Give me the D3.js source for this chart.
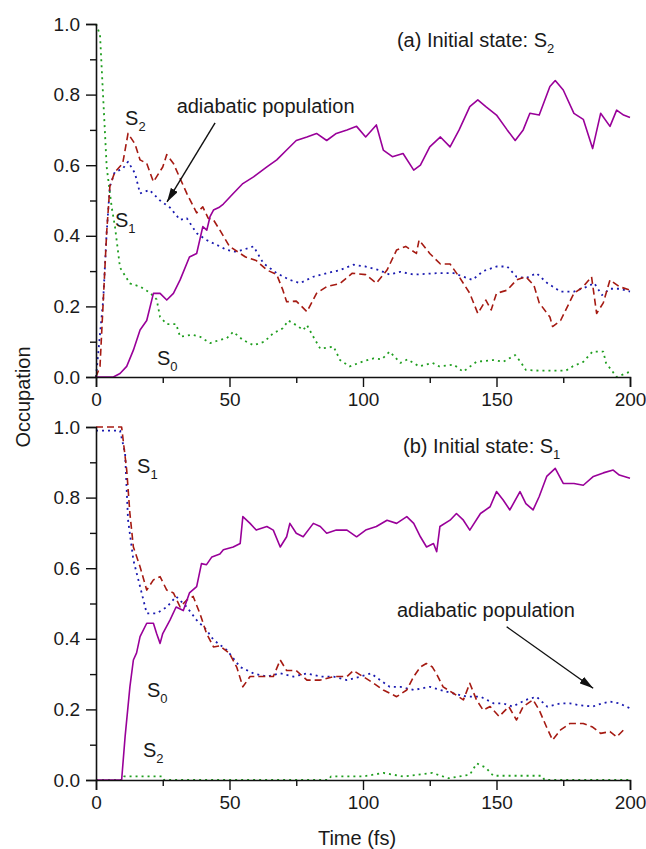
<!DOCTYPE html>
<html>
<head>
<meta charset="utf-8">
<script src="https://cdn.jsdelivr.net/npm/d3@7"></script>
<style>
  body { margin: 0; background: #fff; }
  svg text { font-family: Arial, "Liberation Sans", sans-serif; fill: #1a1a1a; }
</style>
</head>
<body>
<div id="chart"></div>
<script>
// ---- data: [time (fs), occupation] ----
// panel (a), initial state S2
const aS0 = [[0,0],[6.5,0],[9,0.01],[11.5,0.03],[14,0.076],[16.5,0.133],[19,0.16],[21.5,0.237],[24,0.237],[26.5,0.218],[29,0.237],[31.5,0.275],[35,0.34],[37.7,0.35],[40,0.426],[41.5,0.416],[42.7,0.454],[44,0.473],[46,0.48],[47.7,0.49],[51.4,0.52],[55,0.548],[59,0.567],[64,0.595],[67.7,0.615],[71.4,0.643],[75,0.67],[79,0.68],[82.6,0.69],[86.4,0.67],[90,0.69],[94,0.70],[97.6,0.71],[101,0.68],[105,0.714],[107.6,0.643],[111,0.624],[115,0.633],[119,0.586],[121.5,0.6],[125,0.652],[129,0.68],[132.6,0.652],[136,0.70],[140,0.766],[143,0.785],[146,0.766],[150,0.742],[154,0.70],[157,0.67],[160,0.70],[162.5,0.747],[166,0.742],[170,0.823],[172,0.84],[175,0.813],[179,0.747],[182.5,0.73],[186,0.647],[189,0.747],[192.5,0.71],[195,0.756],[197.6,0.742],[200,0.735]];
const aS1 = [[0,0],[1.5,0.03],[4,0.41],[5.2,0.54],[7,0.58],[10,0.605],[12,0.69],[14.6,0.66],[16.5,0.615],[19,0.605],[21.5,0.553],[25,0.595],[26.5,0.63],[29,0.605],[34,0.52],[37.7,0.465],[40,0.482],[42,0.45],[44,0.445],[46.4,0.416],[50,0.37],[54,0.35],[56,0.34],[60,0.33],[64,0.303],[67.7,0.29],[70,0.246],[71.4,0.213],[75,0.215],[79,0.185],[82.6,0.237],[86.4,0.256],[91.4,0.265],[96,0.294],[101,0.29],[105,0.266],[109,0.303],[112.6,0.36],[116,0.37],[120,0.35],[121,0.388],[125,0.35],[129,0.32],[132.6,0.32],[136,0.284],[140,0.237],[143,0.18],[146,0.218],[148,0.19],[150,0.237],[154,0.246],[157.5,0.275],[161,0.284],[164,0.26],[166,0.21],[170,0.17],[171,0.143],[174,0.16],[179,0.237],[182.5,0.256],[185.6,0.284],[187.5,0.18],[190,0.21],[192.5,0.275],[196,0.256],[200,0.246]];
const aS2 = [[0,1.0],[1.5,0.97],[4,0.595],[5.9,0.48],[7.1,0.426],[9,0.31],[12.7,0.265],[16.5,0.256],[20,0.24],[22.7,0.22],[24,0.17],[26.5,0.15],[30,0.15],[31.5,0.114],[36,0.12],[39,0.114],[42.7,0.096],[46.4,0.105],[49,0.11],[51.4,0.128],[55,0.105],[59,0.09],[63,0.10],[66.4,0.124],[70,0.138],[72,0.16],[75,0.147],[77.6,0.133],[79,0.147],[81.4,0.114],[84,0.08],[89,0.086],[91.4,0.048],[95,0.03],[100,0.044],[104,0.053],[107,0.05],[110,0.072],[114,0.04],[116.7,0.05],[121,0.03],[126,0.04],[128.6,0.03],[134,0.035],[137.5,0.015],[142.5,0.043],[148.8,0.048],[152.5,0.043],[157,0.062],[159,0.043],[161,0.02],[166,0.018],[176,0.018],[178.5,0.03],[182.5,0.043],[186,0.072],[190,0.072],[191,0.04],[195,0.0],[200,0.015]];
const aAdiabatic = [[0,0],[2.7,0.218],[4,0.41],[5.2,0.54],[7,0.58],[10,0.59],[12,0.61],[14.6,0.577],[16.5,0.52],[20,0.53],[24,0.50],[27.7,0.48],[31.5,0.445],[34,0.45],[37.7,0.407],[41.4,0.388],[45,0.375],[49,0.36],[52,0.355],[55,0.36],[59,0.37],[62.7,0.322],[67.7,0.294],[72.6,0.275],[76.4,0.266],[81.4,0.284],[86.4,0.294],[91.4,0.303],[96.4,0.318],[101,0.313],[106,0.303],[110,0.29],[114,0.298],[119,0.29],[127.6,0.294],[134,0.294],[141,0.275],[145,0.30],[150,0.313],[154,0.313],[157.5,0.284],[161,0.28],[165,0.294],[169,0.266],[174,0.242],[179,0.242],[184,0.256],[186.6,0.266],[189.5,0.232],[192.5,0.25],[196,0.25],[200,0.242]];

// panel (b), initial state S1
const bS0 = [[0,0],[9.6,0],[10.9,0.123],[12.7,0.264],[14,0.34],[15.2,0.36],[16.5,0.406],[19,0.444],[21.5,0.444],[22.7,0.415],[24,0.387],[25,0.415],[27.7,0.453],[30,0.49],[32.7,0.48],[35,0.53],[37.7,0.548],[39.5,0.613],[41.4,0.61],[43.4,0.632],[46.4,0.64],[47.7,0.652],[51.4,0.66],[54,0.67],[55,0.746],[57.7,0.727],[60,0.708],[64,0.718],[66.4,0.708],[69,0.66],[71.4,0.689],[72.6,0.727],[75,0.699],[77.6,0.689],[81.4,0.727],[84,0.718],[86.4,0.699],[90,0.708],[94,0.708],[97.6,0.689],[101,0.708],[105,0.718],[109,0.736],[112.6,0.727],[116.4,0.746],[119,0.727],[121.5,0.689],[123.8,0.66],[126.4,0.67],[127.6,0.647],[128.8,0.718],[132.6,0.736],[135,0.755],[137.6,0.736],[140,0.708],[144,0.755],[147.6,0.774],[150,0.817],[152.5,0.793],[155,0.765],[158.8,0.817],[161,0.783],[163.7,0.765],[166,0.803],[168.8,0.86],[172,0.883],[175,0.84],[179,0.84],[182.5,0.835],[186.3,0.86],[190,0.87],[193.7,0.878],[196,0.864],[200,0.855]];
const bS1 = [[0,1.0],[9.6,1.0],[11.5,0.878],[12.7,0.755],[14,0.66],[16.5,0.604],[19,0.538],[21.5,0.567],[24,0.576],[26.5,0.538],[29,0.53],[31.5,0.49],[34,0.51],[36.4,0.52],[39,0.47],[41.4,0.415],[44,0.377],[46.4,0.38],[50,0.359],[52.7,0.32],[55,0.264],[57.7,0.293],[61,0.293],[66.4,0.293],[69,0.34],[71.4,0.31],[75,0.31],[79,0.283],[84,0.283],[89,0.293],[94,0.293],[96.4,0.31],[100,0.293],[104,0.274],[107.6,0.255],[112.6,0.236],[116.4,0.255],[119,0.293],[121.5,0.32],[123.7,0.33],[126,0.32],[127.6,0.30],[130,0.264],[134,0.245],[137.6,0.227],[140,0.274],[142.5,0.227],[145,0.198],[147.6,0.208],[151,0.18],[154.6,0.208],[157.5,0.17],[160,0.208],[163.7,0.227],[166,0.198],[168.7,0.151],[171,0.113],[174,0.142],[177.5,0.16],[182.5,0.16],[186,0.15],[189,0.132],[192.5,0.137],[195,0.122],[197.6,0.142]];
const bS2 = [[0,0],[10,0],[10.5,0.01],[25,0.01],[25.5,0],[87,0],[88,0.01],[100,0.01],[107.6,0.02],[115,0.01],[126,0.02],[132,0.005],[140,0.015],[142.6,0.047],[146,0.035],[148.8,0.012],[167,0.012],[168,0],[200,0]];
const bAdiabatic = [[0,0.99],[9,0.99],[10.9,0.925],[12,0.737],[14,0.623],[16.5,0.548],[19,0.472],[22.7,0.472],[26.5,0.49],[30,0.52],[34,0.49],[37.7,0.453],[41.4,0.425],[44,0.397],[49,0.368],[54,0.32],[59,0.302],[64,0.293],[69,0.302],[74,0.293],[79,0.302],[84,0.293],[89,0.293],[94,0.283],[99,0.293],[103,0.302],[106.4,0.283],[110,0.264],[114,0.264],[119,0.255],[125,0.264],[129,0.255],[134,0.245],[139,0.236],[144,0.236],[149,0.217],[152.5,0.217],[156,0.208],[161,0.227],[165,0.236],[169,0.208],[174,0.217],[177.5,0.217],[181,0.212],[186,0.208],[189.5,0.217],[192.5,0.222],[196,0.217],[200,0.203]];

const xMajorTicks = [0, 50, 100, 150, 200];
const xMinorTicks = [25, 75, 125, 175];
const yMajorTicks = [0, 0.2, 0.4, 0.6, 0.8, 1.0];
const yMinorTicks = [0.1, 0.3, 0.5, 0.7, 0.9];

// state labels: [text, subscript, time, occupation]
const aLabels = [["S", "2", 10.9, 0.714], ["S", "1", 7.1, 0.425], ["S", "0", 22.8, 0.034]];
const bLabels = [["S", "1", 15.4, 0.87], ["S", "0", 19.1, 0.235], ["S", "2", 17.6, 0.065]];
// annotation arrows: [fromT, fromV, toT, toV]
const aArrow = [44.6, 0.72, 26.6, 0.496];
const bArrow = [153.8, 0.434, 186.2, 0.26];

const width = 646, height = 849;
const styles = {
  s0: { color: "#990099", dash: null, width: 1.6 },
  s1: { color: "#a51a12", dash: "7,4", width: 1.6 },
  s2: { color: "#1f9e1f", dash: "2,4", width: 1.8 },
  adiabatic: { color: "#1a1ab0", dash: "2,4", width: 1.8 },
};

const svg = d3.select("#chart").append("svg")
  .attr("width", width)
  .attr("height", height);

const defs = svg.append("defs");
defs.append("marker")
  .attr("id", "arrowhead")
  .attr("viewBox", "0 0 14 8")
  .attr("refX", 14)
  .attr("refY", 4)
  .attr("markerUnits", "userSpaceOnUse")
  .attr("markerWidth", 14)
  .attr("markerHeight", 8)
  .attr("orient", "auto")
  .append("path")
  .attr("d", "M0,0 L14,4 L0,8 Z")
  .attr("fill", "#111");

const x = d3.scaleLinear().domain([0, 200]).range([96, 630]);

function drawPanel(top, bottom, series, labels, title, titleSub, titlePos, adiabaticPos, arrow) {
  const y = d3.scaleLinear().domain([0, 1]).range([bottom, top]);
  const g = svg.append("g");

  const line = d3.line()
    .x((d) => x(d[0]))
    .y((d) => y(d[1]));

  // draw order: green, blue, red, purple
  series.forEach(([data, st]) => {
    g.append("path")
      .datum(data)
      .attr("d", line)
      .attr("fill", "none")
      .attr("stroke", st.color)
      .attr("stroke-width", st.width)
      .attr("stroke-dasharray", st.dash)
      .attr("stroke-linejoin", "round");
  });

  // axes
  const yAxis = g.append("g")
    .attr("transform", `translate(${x(0)},0)`)
    .call(d3.axisLeft(y).tickValues(yMajorTicks).tickFormat(d3.format(".1f")).tickSize(10).tickPadding(6));
  g.append("g")
    .attr("transform", `translate(${x(0)},0)`)
    .call(d3.axisLeft(y).tickValues(yMinorTicks).tickFormat("").tickSize(6))
    .select(".domain").remove();

  const xAxis = g.append("g")
    .attr("transform", `translate(0,${bottom})`)
    .call(d3.axisBottom(x).tickValues(xMajorTicks).tickSize(10).tickPadding(6));
  g.append("g")
    .attr("transform", `translate(0,${bottom})`)
    .call(d3.axisBottom(x).tickValues(xMinorTicks).tickFormat("").tickSize(6))
    .select(".domain").remove();

  g.selectAll(".domain").attr("stroke", "#111").attr("stroke-width", 1.6);
  g.selectAll(".tick line").attr("stroke", "#111").attr("stroke-width", 1.4);
  [yAxis, xAxis].forEach((ax) =>
    ax.selectAll("text").attr("font-size", 19).attr("fill", "#1a1a1a")
      .attr("font-family", 'Arial, "Liberation Sans", sans-serif'));

  // state labels
  labels.forEach(([t, sub, tx, v]) => {
    const txt = g.append("text")
      .attr("x", x(tx))
      .attr("y", y(v))
      .attr("font-size", 20)
      .text(t);
    txt.append("tspan").attr("dy", 6).attr("font-size", 13).text(sub);
  });

  // panel title
  const tt = g.append("text")
    .attr("x", x(titlePos[0]))
    .attr("y", y(titlePos[1]))
    .attr("font-size", 20)
    .text(title);
  tt.append("tspan").attr("dy", 6).attr("font-size", 13).text(titleSub);

  g.append("text")
    .attr("x", x(adiabaticPos[0]))
    .attr("y", y(adiabaticPos[1]))
    .attr("font-size", 20)
    .text("adiabatic population");

  g.append("line")
    .attr("x1", x(arrow[0])).attr("y1", y(arrow[1]))
    .attr("x2", x(arrow[2])).attr("y2", y(arrow[3]))
    .attr("stroke", "#111")
    .attr("stroke-width", 1.4)
    .attr("marker-end", "url(#arrowhead)");
}

drawPanel(24, 377,
  [[aS2, styles.s2], [aAdiabatic, styles.adiabatic], [aS1, styles.s1], [aS0, styles.s0]],
  aLabels, "(a) Initial state: S", "2", [112.7, 0.935], [30.2, 0.748], aArrow);

drawPanel(427, 780,
  [[bS2, styles.s2], [bAdiabatic, styles.adiabatic], [bS1, styles.s1], [bS0, styles.s0]],
  bLabels, "(b) Initial state: S", "1", [115, 0.926], [112.7, 0.462], bArrow);

// shared axis titles
svg.append("text")
  .attr("transform", `translate(30,397) rotate(-90)`)
  .attr("text-anchor", "middle")
  .attr("font-size", 20)
  .text("Occupation");

svg.append("text")
  .attr("x", x(100) - 6)
  .attr("y", 845)
  .attr("text-anchor", "middle")
  .attr("font-size", 20)
  .text("Time (fs)");
</script>
</body>
</html>
